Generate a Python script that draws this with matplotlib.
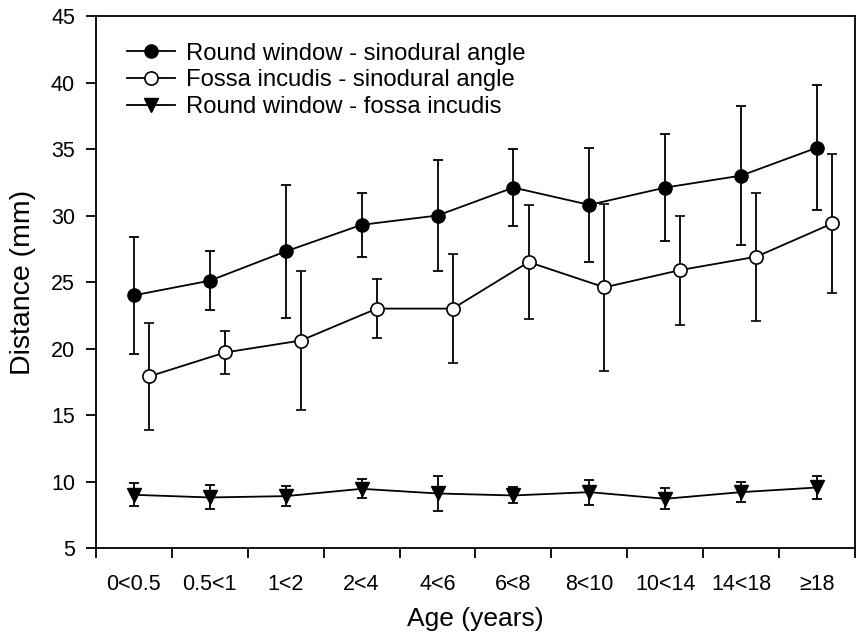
import matplotlib.pyplot as plt
from matplotlib.lines import Line2D
import numpy as np

# age groups on the x axis
age_groups = ['0<0.5', '0.5<1', '1<2', '2<4', '4<6', '6<8', '8<10', '10<14', '14<18', '≥18']

# round window - sinodural angle (mean, sd)
rw_sda = [24.0, 25.1, 27.3, 29.3, 30.0, 32.1, 30.8, 32.1, 33.0, 35.1]
rw_sda_sd = [4.4, 2.2, 5.0, 2.4, 4.2, 2.9, 4.3, 4.0, 5.2, 4.7]

# fossa incudis - sinodural angle (mean, sd)
fi_sda = [17.9, 19.7, 20.6, 23.0, 23.0, 26.5, 24.6, 25.9, 26.9, 29.4]
fi_sda_sd = [4.0, 1.6, 5.2, 2.2, 4.1, 4.3, 6.3, 4.1, 4.8, 5.2]

# round window - fossa incudis (mean, sd)
rw_fi = [9.0, 8.8, 8.9, 9.45, 9.1, 8.95, 9.2, 8.7, 9.2, 9.55]
rw_fi_sd = [0.85, 0.9, 0.77, 0.72, 1.34, 0.6, 0.94, 0.78, 0.75, 0.87]

labels = ['Round window - sinodural angle',
          'Fossa incudis - sinodural angle',
          'Round window - fossa incudis']

plt.rcParams['font.family'] = ['Liberation Sans', 'DejaVu Sans']

fig = plt.figure(figsize=(8.56, 6.35), dpi=100)
ax = fig.add_axes([0.1121, 0.137, 0.8867, 0.8378])

x = np.arange(len(age_groups)) + 0.5

common = dict(color='black', lw=1.3, elinewidth=1.3, capsize=3.5, capthick=1.3)

ax.errorbar(x, rw_sda, yerr=rw_sda_sd, fmt='-o', ms=9.5, mfc='black', mec='black', **common)
ax.errorbar(x + 0.2, fi_sda, yerr=fi_sda_sd, fmt='-o', ms=9.5, mfc='white', mec='black',
            mew=1.2, **common)
ax.errorbar(x, rw_fi, yerr=rw_fi_sd, fmt='-v', ms=9.5, mfc='black', mec='black', **common)

ax.set_xlim(0, 10)
ax.set_ylim(5, 45)
ax.set_yticks(range(5, 46, 5))
ax.set_xticks(range(0, 11))
ax.set_xticklabels([])
ax.set_xticks(x, minor=True)
ax.set_xticklabels(age_groups, minor=True)
ax.tick_params(axis='x', which='minor', length=0, pad=19, labelsize=15.5)
ax.tick_params(axis='x', which='major', length=7, width=1.3)
ax.tick_params(axis='y', length=7, width=1.3, pad=8, labelsize=15.5)

for s in ax.spines.values():
    s.set_linewidth(1.3)

ax.set_xlabel('Age (years)', fontsize=19, labelpad=8)
ax.set_ylabel('Distance (mm)', fontsize=20.5, labelpad=11)

# legend handles without error bars
handles = [
    Line2D([], [], color='black', lw=1.3, marker='o', ms=9.5, mfc='black', mec='black'),
    Line2D([], [], color='black', lw=1.3, marker='o', ms=9.5, mfc='white', mec='black', mew=1.2),
    Line2D([], [], color='black', lw=1.3, marker='v', ms=9.5, mfc='black', mec='black'),
]
ax.legend(handles, labels, loc='upper left', frameon=False, fontsize=17.2,
          handlelength=2.0, handletextpad=0.5, labelspacing=0.2,
          borderaxespad=0.0, bbox_to_anchor=(0.028, 0.968))

plt.savefig('out.png', dpi=100)
